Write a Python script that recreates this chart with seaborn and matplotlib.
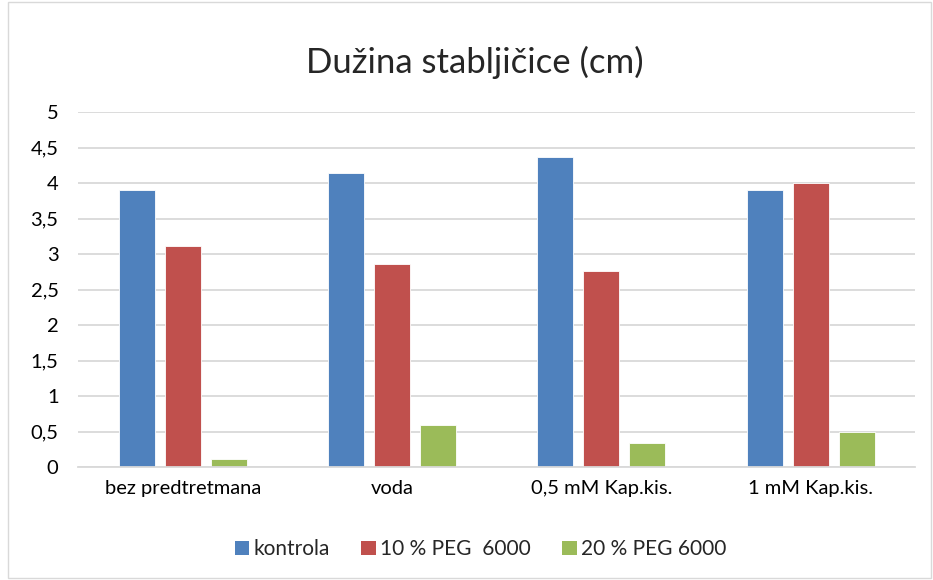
import seaborn as sns
import pandas as pd
import matplotlib.pyplot as plt
from matplotlib.ticker import FuncFormatter, MultipleLocator
from matplotlib.patches import Patch, Rectangle

# data
categories = ['bez predtretmana', 'voda', '0,5 mM Kap.kis.', '1 mM Kap.kis.']
series = ['kontrola', '10 % PEG  6000', '20 % PEG 6000']
kontrola = [3.90, 4.14, 4.37, 3.90]
peg10 = [3.12, 2.86, 2.76, 4.00]
peg20 = [0.11, 0.59, 0.34, 0.50]
colors = ['#4F81BD', '#C0504D', '#9BBB59']

df = pd.DataFrame({
    'tretman': categories * 3,
    'serija': [s for s in series for _ in categories],
    'vrijednost': kontrola + peg10 + peg20,
})

sns.set_style('white')
plt.rcParams['font.family'] = ['Lato', 'DejaVu Sans']

fig = plt.figure(figsize=(9.33, 5.8), dpi=100)
ax = fig.add_axes([0.0836, 0.1948, 0.8974, 0.612])

sns.barplot(data=df, x='tretman', y='vrijednost', hue='serija',
            palette=colors, saturation=1, width=0.66, gap=0.22, ax=ax,
            edgecolor='white', linewidth=0.6, legend=False)

ax.set_ylim(0, 5)
ax.set_xlim(-0.5, 3.5)
ax.yaxis.set_major_locator(MultipleLocator(0.5))
ax.yaxis.set_major_formatter(FuncFormatter(lambda v, p: ('%g' % v).replace('.', ',')))
ax.grid(axis='y', color='#D9D9D9', linewidth=1.3)
ax.set_axisbelow(True)
for s in ['top', 'right', 'left']:
    ax.spines[s].set_visible(False)
ax.spines['bottom'].set_color('#D9D9D9')
ax.spines['bottom'].set_linewidth(1.3)
ax.tick_params(axis='both', length=0, labelsize=14.5, colors='#000000')
ax.tick_params(axis='y', pad=14)
ax.tick_params(axis='x', pad=9)
ax.set_xlabel('')
ax.set_ylabel('')

fig.text(0.509, 0.893, 'Dužina stabljičice (cm)', ha='center', va='center', fontsize=25)

handles = [Patch(facecolor=c, edgecolor='none') for c in colors]
fig.legend(handles, series, loc='center', bbox_to_anchor=(0.515, 0.053), ncol=3,
           frameon=False, fontsize=15, handlelength=0.7, handleheight=0.7,
           handletextpad=0.2, columnspacing=1.5)

fig.patches.append(Rectangle((0.009, 0.003), 0.989, 0.994, transform=fig.transFigure,
                             fill=False, edgecolor='#D9D9D9', linewidth=1))

fig.savefig('out.png', dpi=100)
